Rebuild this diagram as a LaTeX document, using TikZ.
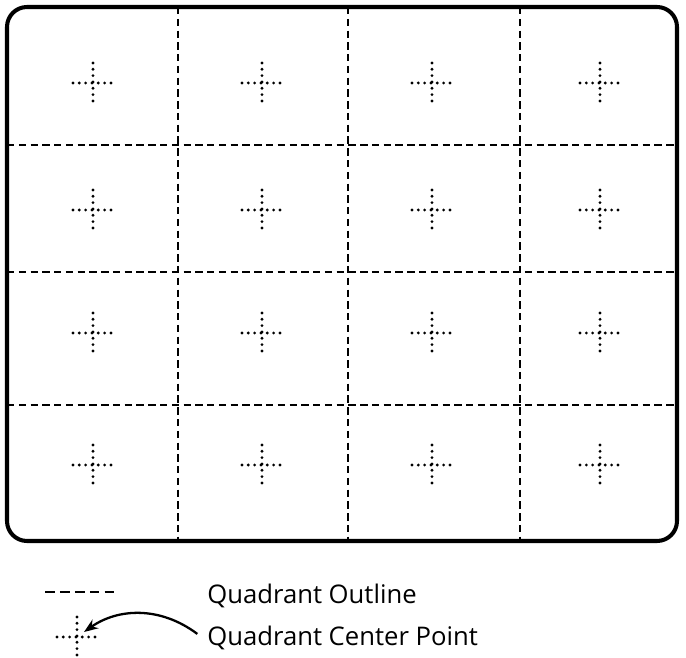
\documentclass[tikz,border=0pt]{standalone}
\usepackage{fontspec}
\setmainfont{Open Sans}
\usetikzlibrary{arrows.meta, positioning}

\begin{document}
\begin{tikzpicture}[
        x=0.02cm, y=-0.02cm,
        frame/.style = {line width=2.3pt, rounded corners=0.4cm},
        outline/.style = {line width=1.4pt, dash pattern=on 4.2pt off 2.5pt},
        centerpt/.style = {line width=1.8pt, line cap=round, dash pattern=on 0pt off 3.6pt},
        crosspt/.pic = {
            \draw [centerpt] (-20,0) -- (21,0);
            \draw [centerpt] (0,-20) -- (0,18);
        },
        legend/.style = {anchor=base west, inner sep=0pt, font=\fontsize{14.6}{17}\selectfont},
        pointer/.style = {line width=1.3pt, -{Stealth[length=8pt, width=6pt]}}
    ]
        \useasboundingbox (0,0) rectangle (686,658);

        % Screen frame
        \draw [frame] (7,7) rectangle (677,541);

        % Quadrant outlines
        \foreach \x in {178,348,520}
            \draw [outline] (\x,7) -- (\x,541);
        \foreach \y in {145,272,405}
            \draw [outline] (7,\y) -- (677,\y);

        % Quadrant center points
        \foreach \x in {93,262,432,600}
            \foreach \y in {83,210,333,465}
                \pic at (\x,\y) {crosspt};

        % Legend
        \draw [outline, dash pattern=on 5.5pt off 3pt] (45,592) -- (117,592);
        \node (outlineText) [legend] at (207,603) {Quadrant Outline};

        \pic at (77,637) {crosspt};
        \coordinate (centerSample) at (84,632);
        \node (centerText) [legend] at (207,645) {Quadrant Center Point};

        \draw [pointer] ([xshift=-5.5pt, yshift=2pt]centerText.west) .. controls (160,606) and (118,608) .. (centerSample);

    \end{tikzpicture}
\end{document}
